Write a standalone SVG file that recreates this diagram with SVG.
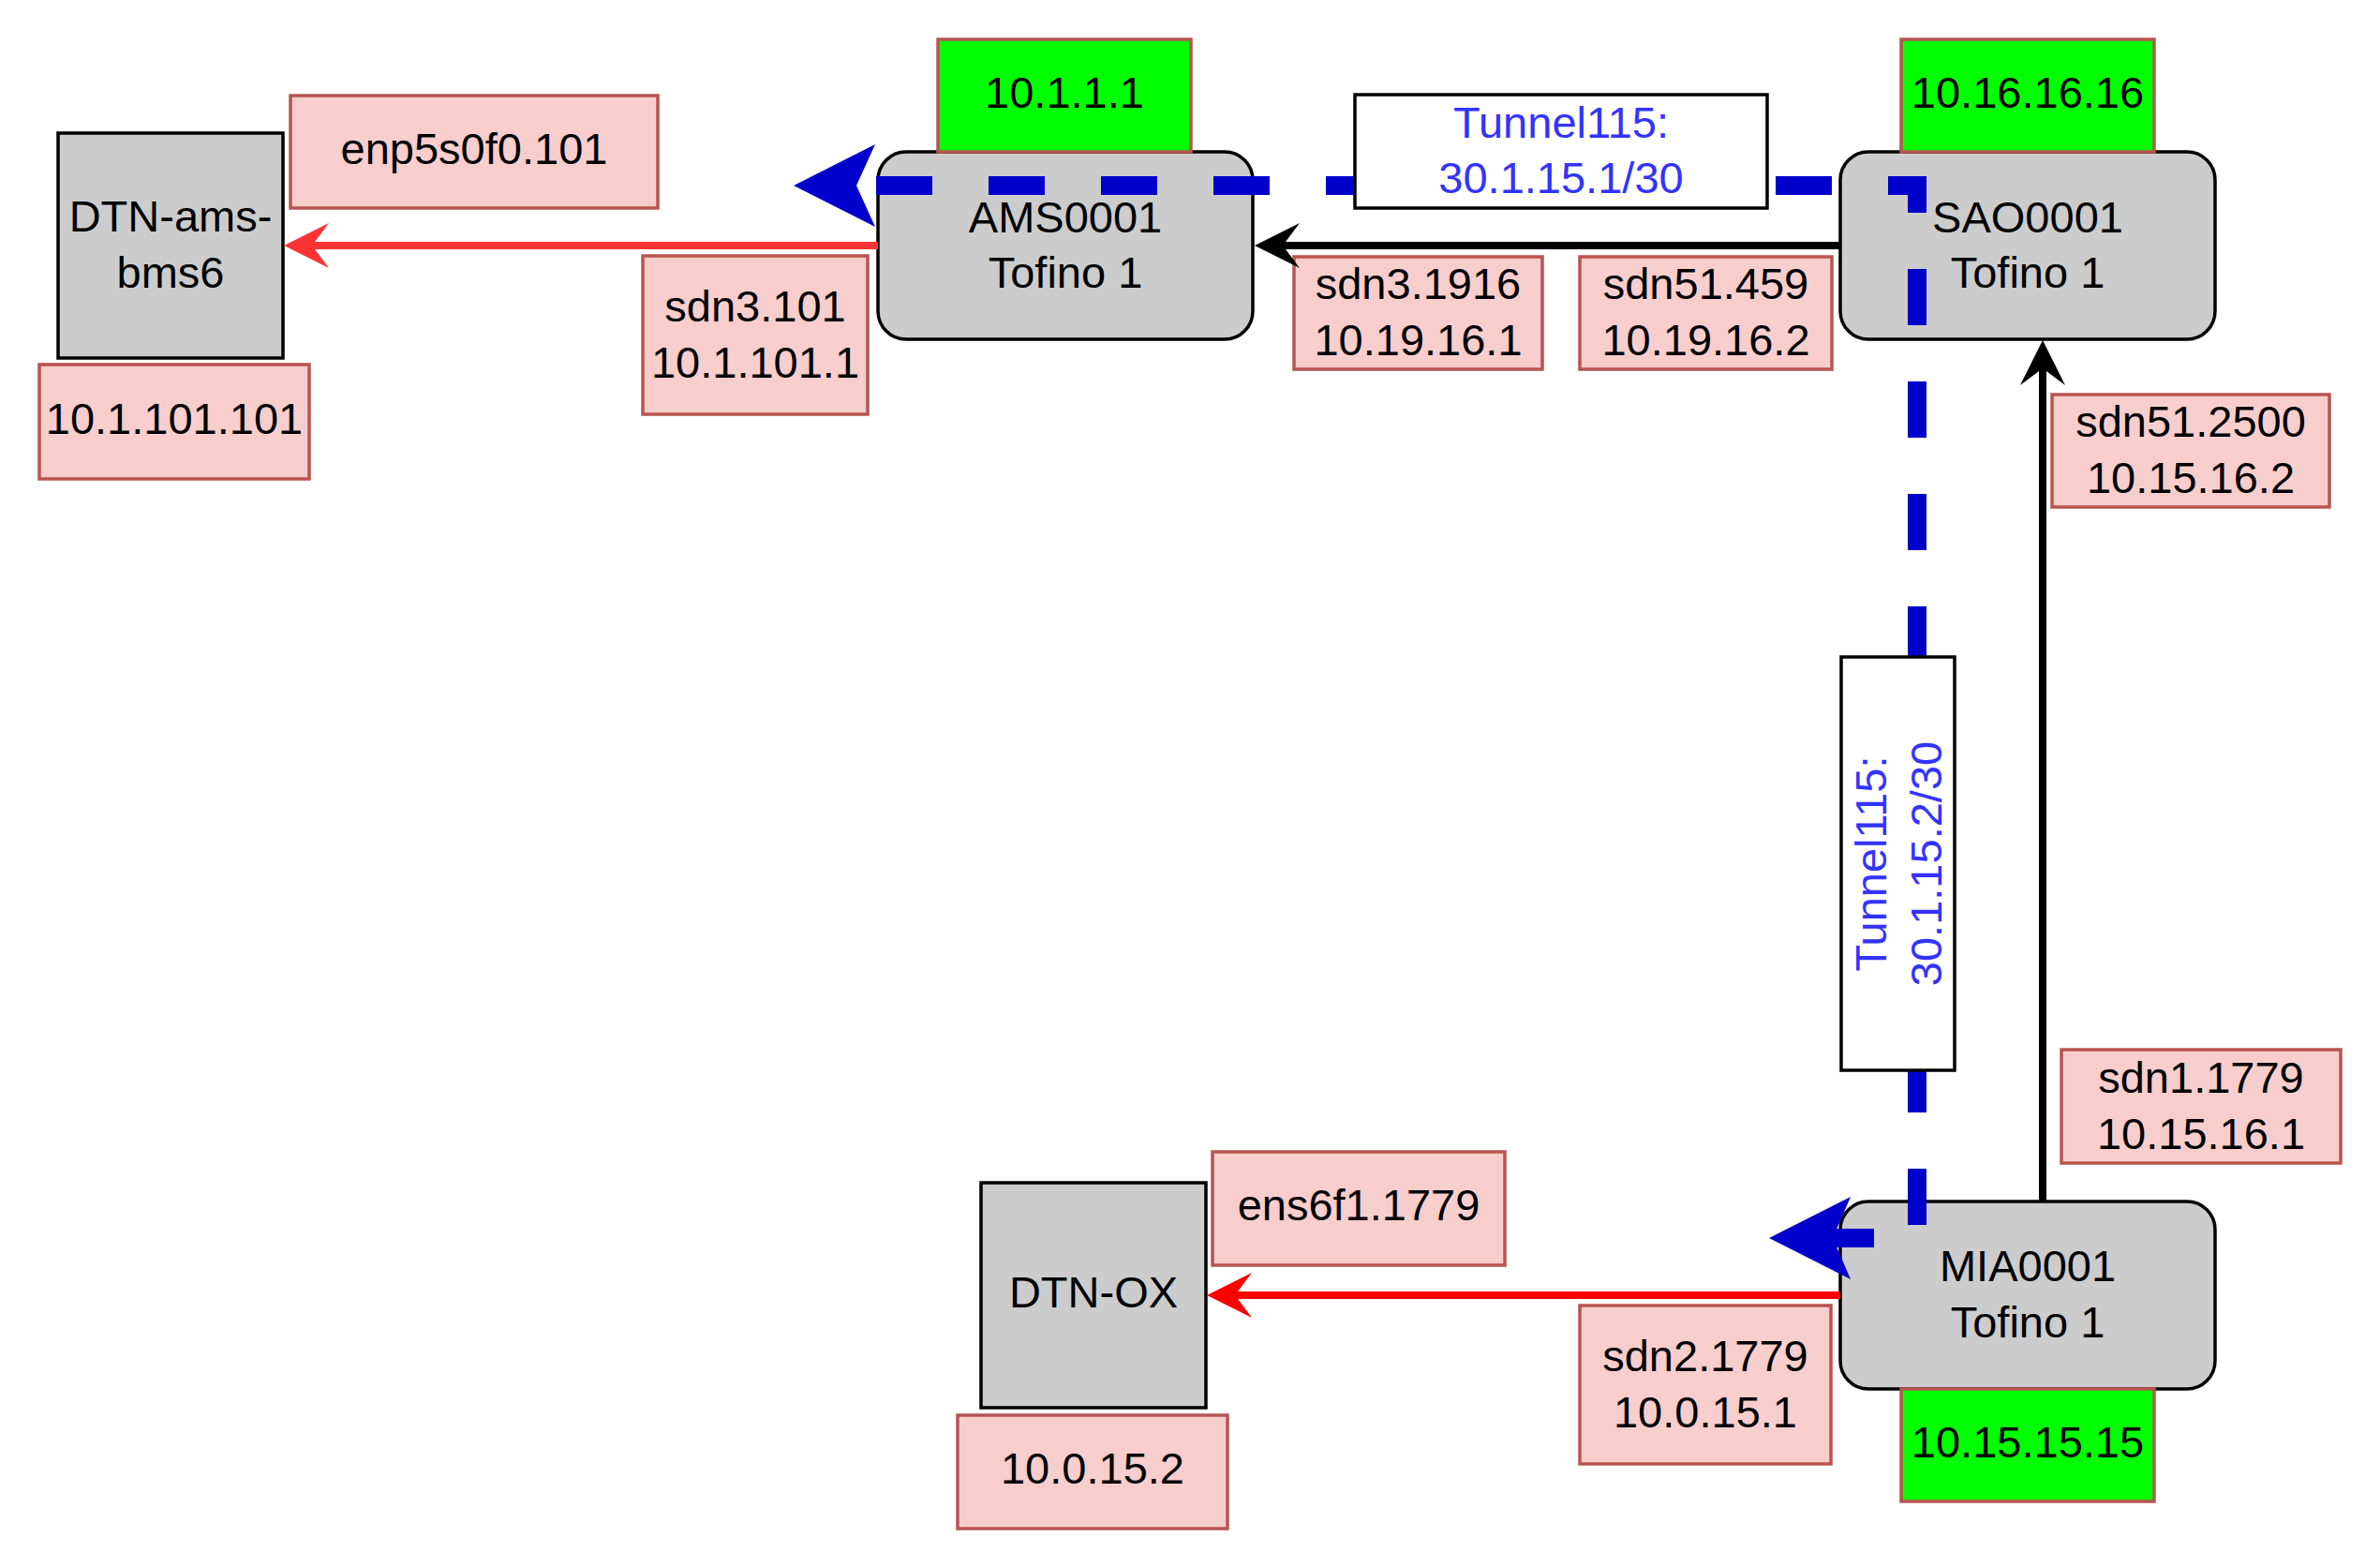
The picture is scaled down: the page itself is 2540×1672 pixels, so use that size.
<svg xmlns="http://www.w3.org/2000/svg" width="2540" height="1672" viewBox="0 0 2540 1672">
<style>
text{font-family:"Liberation Sans",Arial,sans-serif;font-size:47px;fill:#000;text-anchor:middle}
.host{fill:#cccccc;stroke:#000;stroke-width:3.5}
.router{fill:#cccccc;stroke:#000;stroke-width:3.5}
.ip{fill:#f8cecc;stroke:#b85450;stroke-width:3.5}
.lo{fill:#00ff00;stroke:#b85450;stroke-width:3.5}
.lbl{fill:#ffffff;stroke:#000;stroke-width:3.5}
.tun{fill:#3333ff}
.red1{stroke:#ff3333;stroke-width:8;fill:none}
.red2{stroke:#ff0000;stroke-width:8;fill:none}
.blk{stroke:#000;stroke-width:8;fill:none}
.tunnel{stroke:#0000cc;stroke-width:20;fill:none;stroke-dasharray:60 60;stroke-linejoin:miter}
</style>
<rect width="2540" height="1672" fill="#ffffff"/>
<g id="dtn-ams"><rect class="host" x="62" y="142" width="240" height="240"/><text x="182" y="247">DTN-ams-</text><text x="182" y="307">bms6</text></g>
<g id="lbl-enp5s0f0"><rect class="ip" x="310" y="102" width="392" height="120"/><text x="506" y="175">enp5s0f0.101</text></g>
<g id="lbl-10-1-101-101"><rect class="ip" x="42" y="389" width="288" height="122"/><text x="186" y="463">10.1.101.101</text></g>
<g id="lbl-sdn3-101"><rect class="ip" x="686" y="273" width="240" height="169"/><text x="806" y="343">sdn3.101</text><text x="806" y="403">10.1.101.1</text></g>
<g id="ams0001"><rect class="router" x="937" y="162" width="400" height="200" rx="30" ry="30"/><text x="1137" y="248">AMS0001</text><text x="1137" y="307">Tofino 1</text></g>
<g id="lo-ams"><rect class="lo" x="1001" y="42" width="270" height="120"/><text x="1136" y="115">10.1.1.1</text></g>
<g id="lbl-sdn3-1916"><rect class="ip" x="1381" y="274" width="265" height="120"/><text x="1513.5" y="319">sdn3.1916</text><text x="1513.5" y="379">10.19.16.1</text></g>
<g id="lbl-sdn51-459"><rect class="ip" x="1686" y="274" width="269" height="120"/><text x="1820.5" y="319">sdn51.459</text><text x="1820.5" y="379">10.19.16.2</text></g>
<g id="sao0001"><rect class="router" x="1964" y="162" width="400" height="200" rx="30" ry="30"/><text x="2164" y="248">SAO0001</text><text x="2164" y="307">Tofino 1</text></g>
<g id="lo-sao"><rect class="lo" x="2029" y="42" width="270" height="120"/><text x="2164" y="115">10.16.16.16</text></g>
<g id="lbl-sdn51-2500"><rect class="ip" x="2190" y="421" width="296" height="120"/><text x="2338" y="466">sdn51.2500</text><text x="2338" y="526">10.15.16.2</text></g>
<g id="lbl-sdn1-1779"><rect class="ip" x="2200" y="1120" width="298" height="121"/><text x="2349" y="1166">sdn1.1779</text><text x="2349" y="1226">10.15.16.1</text></g>
<g id="mia0001"><rect class="router" x="1964" y="1282" width="400" height="200" rx="30" ry="30"/><text x="2164" y="1367">MIA0001</text><text x="2164" y="1427">Tofino 1</text></g>
<g id="lo-mia"><rect class="lo" x="2029" y="1482" width="270" height="120"/><text x="2164" y="1555">10.15.15.15</text></g>
<g id="dtn-ox"><rect class="host" x="1047" y="1262" width="240" height="240"/><text x="1167" y="1395">DTN-OX</text></g>
<g id="lbl-ens6f1"><rect class="ip" x="1294" y="1229" width="312" height="121"/><text x="1450" y="1302">ens6f1.1779</text></g>
<g id="lbl-sdn2-1779"><rect class="ip" x="1686" y="1393" width="268" height="169"/><text x="1820" y="1463">sdn2.1779</text><text x="1820" y="1523">10.0.15.1</text></g>
<g id="lbl-10-0-15-2"><rect class="ip" x="1022" y="1510" width="288" height="121"/><text x="1166" y="1583">10.0.15.2</text></g>
<g id="connectors">
<line class="red1" x1="937" y1="262" x2="330" y2="262"/>
<polygon fill="#ff3333" points="303,262 351,238 333,262 351,286"/>
<line class="blk" x1="1964" y1="262" x2="1365" y2="262"/>
<polygon fill="#000" points="1339,262 1387,238 1369,262 1387,286"/>
<line class="blk" x1="2180" y1="1282" x2="2180" y2="388"/>
<polygon fill="#000" points="2180,363 2204,411 2180,393 2156,411"/>
<line class="red2" x1="1964" y1="1382" x2="1314" y2="1382"/>
<polygon fill="#ff0000" points="1288,1382 1336,1358 1318,1382 1336,1406"/>
<path class="tunnel" d="M935,198 L2046,198 L2046,1321 L1955,1321"/>
<polygon fill="#0000cc" points="847,198 934,154 914,198 934,242"/>
<polygon fill="#0000cc" points="1888,1321 1975,1277 1956,1321 1975,1365"/>
</g>
<g id="tunnel-label-1"><rect class="lbl" x="1446" y="101" width="440" height="121"/><text class="tun" x="1666" y="147">Tunnel115:</text><text class="tun" x="1666" y="206">30.1.15.1/30</text></g>
<g id="tunnel-label-2"><rect class="lbl" x="1965" y="701" width="121" height="441"/><text class="tun" transform="translate(2025.5,921.5) rotate(-90)" x="0" y="-13">Tunnel115:</text><text class="tun" transform="translate(2025.5,921.5) rotate(-90)" x="0" y="46">30.1.15.2/30</text></g>
</svg>
